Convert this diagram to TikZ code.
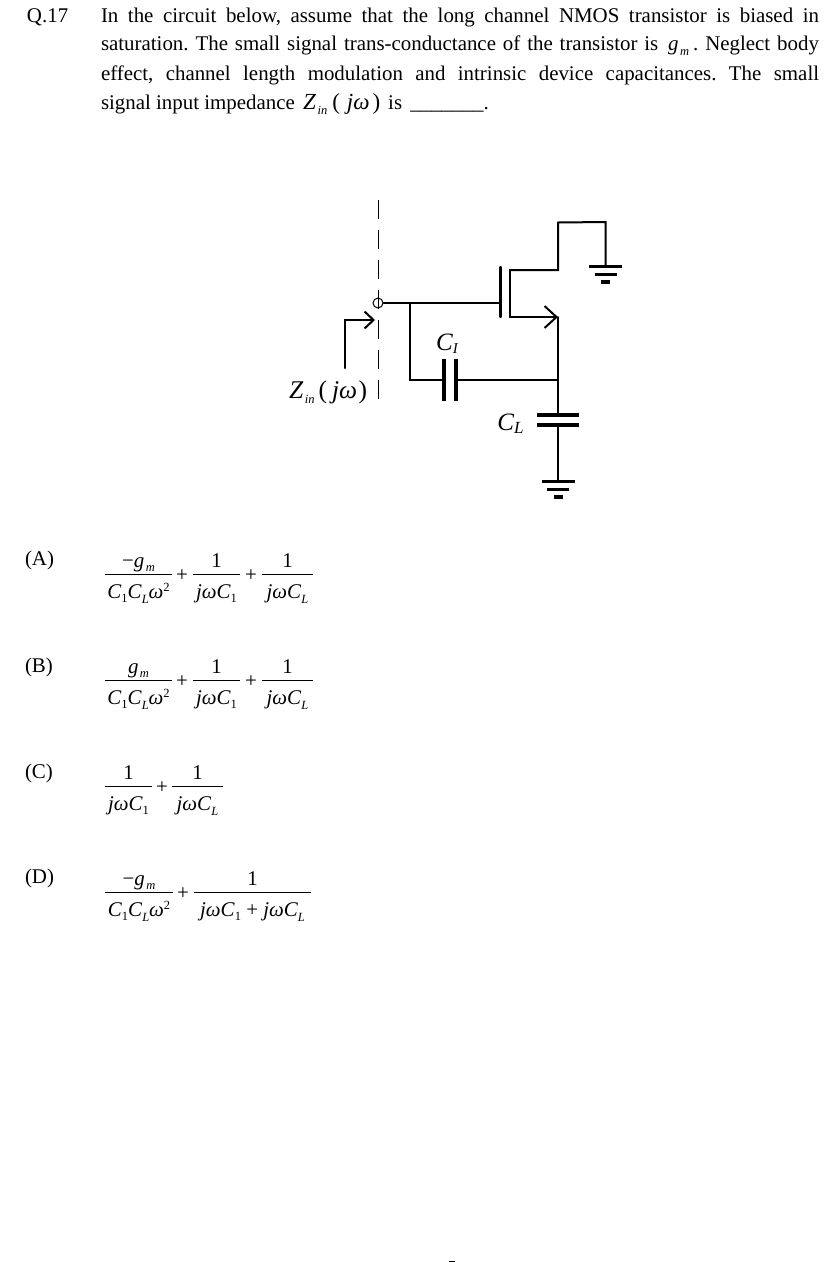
\documentclass[tikz,border=0pt]{standalone}
\usepackage{fontspec}
\setmainfont{Liberation Serif}
\usetikzlibrary{arrows.meta}
\frenchspacing
\newcommand\sbs[1]{\raisebox{-0.5ex}{\fontsize{12.5}{12}\selectfont\textit{#1}}}
\newcommand\sbr[1]{\raisebox{-0.4ex}{\fontsize{12.5}{12}\selectfont #1}}
\newcommand\spp[1]{\raisebox{0.75ex}{\fontsize{12.5}{12}\selectfont #1}}
\newcommand\jwc[1]{\textit{jωC}#1}
\newcommand\cclw{\textit{C}\sbr{1}\textit{C}\sbs{L}\textit{ω}\spp{2}}
\newcommand\gm{\textit{g}\kern1.5pt\sbs{m}}
\tikzset{
  x=1pt,y=-1pt,
  wire/.style={line width=2pt,line cap=round,line join=miter},
  plate/.style={line width=4pt},
  bigbarb/.style={-{Straight Barb[length=12pt,width=22pt,line width=2pt]}},
  smallbarb/.style={-{Straight Barb[length=9pt,width=17pt,line width=2pt]}},
  txt/.style={anchor=base west,inner sep=0pt,outer sep=0pt,font=\fontsize{20.9}{24}\selectfont},
  frm/.style={anchor=base,inner sep=0pt,outer sep=0pt,font=\fontsize{20.9}{24}\selectfont},
  lab/.style={anchor=base,inner sep=0pt,outer sep=0pt,font=\fontsize{25}{28}\selectfont\itshape},
  fracrule/.style={line width=0.9pt},
  dashline/.style={line width=1pt,dash pattern=on 19.3pt off 10.7pt},
  term/.style={circle,draw,line width=1pt,minimum size=10pt,inner sep=0pt},
}
% \fracat{name}{x1}{x2}{yrule}{num}{den}
\newcommand\fracat[6]{%
  \coordinate (#1l) at (#2,#4);
  \coordinate (#1r) at (#3,#4);
  \draw[fracrule] (#1l) -- (#1r);
  \node[frm] (#1n) at ({(#2+#3)/2},#4-7) {#5};
  \node[frm] (#1d) at ({(#2+#3)/2},#4+24.5) {#6};
}
% \gnd{name}{x}{y}
\newcommand\gnd[3]{%
  \coordinate (#1) at (#2,#3);
  \draw[line width=3pt] (#2-16.5,#3) -- (#2+16.5,#3);
  \draw[line width=3pt] (#2-11,#3+8) -- (#2+11,#3+8);
  \draw[line width=3.6pt] (#2-4.5,#3+16) -- (#2+4.5,#3+16);
}
\begin{document}
\begin{tikzpicture}
\useasboundingbox (0,0) rectangle (840,1262);
\fill[white] (0,0) rectangle (840,1262);
% question text
\node[txt] (qno) at (27,22) {Q.17};
\node[txt] (l1) at (101,22) {\hbox to 718pt{In the circuit below, assume that the long channel NMOS transistor is biased in}};
\node[txt] (l2) at (101,50.5) {\hbox to 718pt{saturation. The small signal trans-conductance of the transistor is \kern3pt\gm\kern4pt. Neglect body}};
\node[txt] (l3) at (101,80) {\hbox to 718pt{effect, channel length modulation and intrinsic device capacitances. The small}};
\node[txt] (l4) at (101,109) {signal input impedance \kern3pt{\fontsize{23}{24}\selectfont\textit{Z}\kern1.5pt\sbs{in}\kern5pt(\kern7pt\textit{jω}\kern3pt)}\kern8pt is \kern3pt\_\_\_\_\_\_\_.};
% circuit
\draw[dashline] (378,200) -- (378,400);
\node[term] (in) at (378,303) {};
\coordinate (jn) at (410,303);
\coordinate (g) at (500,303);
\coordinate (gt) at (500.5,267);
\coordinate (gb) at (500.5,317);
\coordinate (ct) at (510,270);
\coordinate (cb) at (510,317);
\coordinate (d1) at (558,270);
\coordinate (d2) at (558,222.5);
\coordinate (d3) at (605.5,222);
\coordinate (s) at (558,317);
\coordinate (jc) at (558,380);
\coordinate (c1a) at (444,380);
\coordinate (c1b) at (456,380);
\coordinate (c1c) at (410,380);
\coordinate (cla) at (558,415);
\coordinate (clb) at (558,425);
\draw[wire] (in) -- (g);
\draw[wire,line width=2.3pt] (gt) -- (gb);
\draw[wire,line width=2.3pt] (ct) -- (cb);
\gnd{g1}{605.5}{266}
\draw[wire] (ct) -- (d1) -- (d2) -- (d3) -- (g1);
\draw[wire,bigbarb] (cb) -- (s);
\draw[wire] (s) -- (jc) -- (cla);
\draw[wire] (jn) -- (c1c) -- (c1a);
\draw[wire] (c1b) -- (jc);
\draw[plate] (444,359) -- (444,401);
\draw[plate] (456,359) -- (456,401);
\draw[plate] (537,414.5) -- (579,414.5);
\draw[plate] (537,425) -- (579,425);
\gnd{g2}{558}{481}
\draw[wire] (clb) -- (g2);
\coordinate (za) at (345,368);
\coordinate (zb) at (345,320);
\coordinate (zc) at (375,320);
\draw[wire,smallbarb] (za) -- (zb) -- (zc);
\node[lab] (c1lab) at (447,350) {C\raisebox{-0.3ex}{\fontsize{15}{15}\selectfont I}};
\node[lab] (cllab) at (510.5,430) {C\raisebox{-0.3ex}{\fontsize{17}{17}\selectfont L}};
\node[txt,font=\fontsize{25.5}{28}\selectfont] (zin) at (289,398) {\textit{Z}\kern1.5pt\sbs{in}\kern4pt(\kern5pt\textit{jω}\kern1.5pt)};
% options
\node[txt] (oa) at (25,565.5) {(A)};
\fracat{a1}{105}{172}{574}{−\gm}{\cclw}
\node[frm] (ap1) at (182,581) {+};
\fracat{a2}{193}{240}{574}{1}{\jwc{\sbr{1}}}
\node[frm] (ap2) at (251,581) {+};
\fracat{a3}{262}{313}{574}{1}{\jwc{\sbs{L}}}
\node[txt] (ob) at (25,672) {(B)};
\fracat{b1}{105}{172}{680}{\gm}{\cclw}
\node[frm] (bp1) at (182,687) {+};
\fracat{b2}{193}{240}{680}{1}{\jwc{\sbr{1}}}
\node[frm] (bp2) at (251,687) {+};
\fracat{b3}{262}{313}{680}{1}{\jwc{\sbs{L}}}
\node[txt] (oc) at (25,778) {(C)};
\fracat{c1}{105}{152}{786}{1}{\jwc{\sbr{1}}}
\node[frm] (cp1) at (162,793) {+};
\fracat{c2}{172}{223}{786}{1}{\jwc{\sbs{L}}}
\node[txt] (od) at (25,883.5) {(D)};
\fracat{d1}{105}{173}{892}{−\gm}{\cclw}
\node[frm] (dp1) at (183,899) {+};
\fracat{d2}{194}{311}{892}{1}{\jwc{\sbr{1}} + \jwc{\sbs{L}}}
\fill (449,1260.5) rectangle (455,1262);
\end{tikzpicture}
\end{document}
